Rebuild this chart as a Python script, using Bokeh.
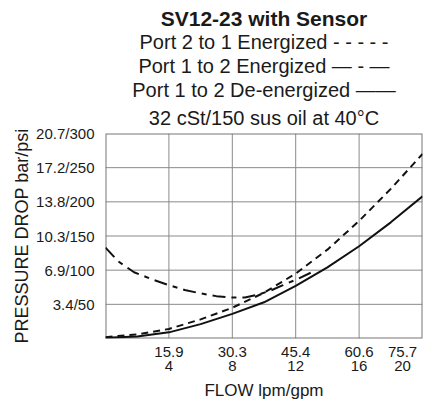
from bokeh.plotting import figure
from bokeh.models import Title, FixedTicker, ColumnDataSource
from bokeh.embed import file_html
from bokeh.resources import INLINE

# ---- data (flow in gpm, pressure drop in psi) ----
deenergized_flow = [0, 2, 4, 6, 8, 10, 12, 14, 16, 18, 20]
deenergized_dp = [1, 3, 9, 21, 36, 53, 77, 104, 135, 170, 208]

p21_flow = [0, 2, 4, 6, 8, 10, 12, 14, 16, 18, 20]
p21_dp = [2, 6, 14, 28, 45, 67, 95, 130, 172, 219, 270]

p12_flow = [0, 0.8, 1.8, 3, 4, 5, 6, 7, 8, 8.8, 9.6, 10.4, 11.2, 12.2, 13.2]
p12_dp = [133, 113, 97, 86, 78, 71, 66, 62, 60, 60, 64, 70, 78, 88, 99]

x_range_gpm = (0, 20)
y_range_psi = (0, 300)
x_ticks = [4, 8, 12, 16]
x_tick_labels = ["15.9\n4", "30.3\n8", "45.4\n12", "60.6\n16"]
x_last_label = "75.7\n20"
y_ticks = [50, 100, 150, 200, 250]
y_tick_labels = ["3.4/50", "6.9/100", "10.3/150", "13.8/200", "17.2/250"]
y_top_label = "20.7/300"

title_lines = [
    "SV12-23 with Sensor",
    "Port 2 to 1 Energized - - - - -",
    "Port 1 to 2 Energized \u2014 - \u2014",
    "Port 1 to 2 De-energized \u2014\u2014",
    "32 cSt/150 sus oil at 40\u00b0C",
]

FONT = "Liberation Sans"
TXT = "#1a1a1a"
GRID = "#8a8a8a"
PAD = "\u2007"   # keeps the last x label inside the picture

p = figure(width=425, height=403, x_range=x_range_gpm, y_range=y_range_psi,
           output_backend="svg", toolbar_location=None,
           min_border_left=105, min_border_right=3, min_border_top=133,
           min_border_bottom=65)
p.title.visible = False
p.xgrid.visible = False
p.ygrid.visible = False
p.outline_line_color = None

# titles: closest to plot first
n_t = len(title_lines)
for i, t in enumerate(reversed(title_lines)):
    bold = (t == title_lines[0])
    if i == 0:
        so = 9
    elif bold:
        so = -2
    else:
        so = 0
    p.add_layout(Title(text=t, align="center", text_font=FONT,
                       text_font_size="21px" if bold else "20px",
                       text_font_style="bold" if bold else "normal",
                       text_color=TXT, standoff=so), "above")

x_all_ticks = x_ticks + [x_range_gpm[1]]
y_all_ticks = y_ticks + [y_range_psi[1]]
last_parts = x_last_label.split("\n")
p.xaxis.ticker = FixedTicker(ticks=x_all_ticks)
p.yaxis.ticker = FixedTicker(ticks=y_all_ticks)
p.xaxis.major_label_overrides = {**dict(zip(x_ticks, x_tick_labels)),
                                 x_range_gpm[1]: "\n".join(s + PAD for s in last_parts)}
p.yaxis.major_label_overrides = {**dict(zip(y_ticks, y_tick_labels)),
                                 y_range_psi[1]: y_top_label}

for ax in (p.xaxis, p.yaxis):
    ax.axis_line_color = None
    ax.major_tick_line_color = None
    ax.minor_tick_line_color = None
    ax.major_label_text_font = FONT
    ax.major_label_text_font_size = "15px"
    ax.major_label_text_color = TXT
    ax.axis_label_text_font = FONT
    ax.axis_label_text_font_style = "normal"
    ax.axis_label_text_color = TXT

p.xaxis.axis_label_text_font_size = "17px"
p.yaxis.axis_label_text_font_size = "18px"
p.xaxis.major_label_standoff = -2
p.xaxis.major_label_text_line_height = 0.87
p.yaxis.major_label_standoff = 5
p.xaxis.axis_label = "FLOW lpm/gpm"
p.yaxis.axis_label = "PRESSURE DROP bar/psi"
p.xaxis.axis_label_standoff = 4
p.yaxis.axis_label_standoff = 1

# grid lines and frame drawn as glyphs from the tick arrays
x0, x1 = x_range_gpm
y0, y1 = y_range_psi
p.segment(x0=x_ticks, y0=[y0] * len(x_ticks), x1=x_ticks, y1=[y1] * len(x_ticks),
          line_color=GRID, line_width=1)
p.segment(x0=[x0] * len(y_ticks), y0=y_ticks, x1=[x1] * len(y_ticks), y1=y_ticks,
          line_color=GRID, line_width=1)
p.quad(left=[x0], right=[x1], bottom=[y0], top=[y1], fill_color=None,
       line_color="#777777", line_width=2)

src_d = ColumnDataSource(dict(x=deenergized_flow, y=deenergized_dp))
src_a = ColumnDataSource(dict(x=p21_flow, y=p21_dp))
src_b = ColumnDataSource(dict(x=p12_flow, y=p12_dp))

p.line("x", "y", source=src_d, line_color="#111111", line_width=2)
p.line("x", "y", source=src_a, line_color="#111111", line_width=2,
       line_dash="7 5")
p.line("x", "y", source=src_b, line_color="#111111", line_width=2,
       line_dash="13 6 5 6")

open("out.html", "w").write(file_html(p, INLINE))
